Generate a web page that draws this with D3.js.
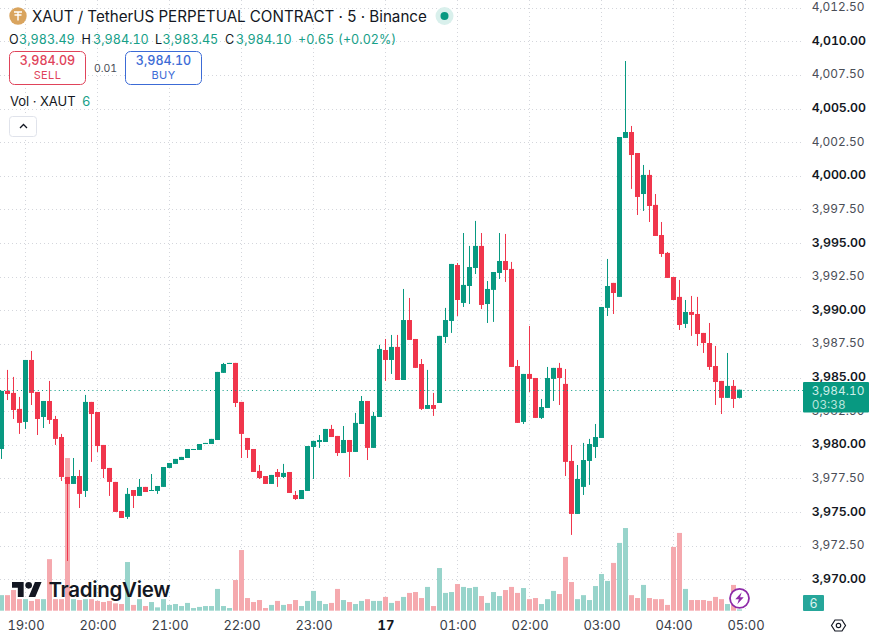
<!DOCTYPE html>
<html>
<head>
<meta charset="utf-8">
<style>
  html, body { margin: 0; padding: 0; background: #fff; }
  svg { display: block; font-family: Inter, "Noto Sans", sans-serif; font-variant-numeric: tabular-nums; font-feature-settings: "tnum" 1; }
</style>
<script src="https://cdn.jsdelivr.net/npm/d3@7/dist/d3.min.js"></script>
</head>
<body>
<svg id="chart" width="874" height="639"></svg>
<script>
// XAUT/USDT perpetual, 5 minute bars: first bar opens at 18:40
const opens = [3979.69,3984.01,3983.86,3982.67,3981.70,3986.31,3983.93,3982.07,3983.26,3981.92,3980.58,3977.61,3977.09,3977.68,3976.57,3983.19,3982.44,3979.99,3978.28,3977.24,3975.08,3974.64,3976.64,3976.20,3976.87,3976.57,3976.57,3976.87,3978.28,3978.58,3978.87,3979.02,3979.62,3979.62,3980.06,3980.06,3980.36,3985.35,3986.01,3986.09,3983.19,3980.51,3979.69,3978.06,3977.68,3977.09,3977.98,3977.61,3977.98,3976.27,3975.97,3976.57,3979.84,3980.21,3980.21,3981.18,3980.66,3979.39,3980.36,3979.47,3981.55,3983.26,3979.77,3982.07,3987.05,3986.31,3987.28,3984.82,3989.28,3987.87,3986.01,3982.67,3982.96,3983.11,3988.02,3989.21,3993.37,3990.55,3991.81,3993.15,3994.79,3990.47,3991.52,3992.78,3993.67,3993.08,3985.86,3981.70,3985.27,3984.97,3982.00,3982.74,3984.90,3985.72,3984.53,3978.80,3974.86,3976.87,3978.80,3979.84,3980.51,3990.18,3992.04,3991.00,4002.82,4003.26,4001.70,3998.65,4000.07,3997.84,3995.60,3994.27,3992.48,3991.00,3988.99,3989.88,3989.73,3988.32,3987.57,3985.86,3984.75,3983.49,3984.38,3983.49];
const highs = [3984.01,3985.57,3985.05,3983.56,3986.31,3986.98,3983.93,3983.26,3984.75,3982.15,3980.81,3977.61,3979.02,3978.13,3983.71,3983.19,3982.44,3979.99,3978.28,3977.24,3975.08,3976.79,3976.64,3977.46,3976.87,3977.83,3976.94,3978.35,3978.65,3978.95,3979.10,3979.69,3979.69,3980.06,3980.14,3980.44,3985.42,3986.09,3986.09,3986.09,3983.19,3980.51,3979.69,3978.50,3977.68,3977.76,3978.20,3978.58,3977.98,3976.57,3976.64,3979.91,3980.29,3980.73,3981.18,3981.48,3980.66,3981.40,3980.36,3982.37,3983.63,3983.26,3982.44,3987.43,3987.87,3988.17,3988.17,3991.59,3990.92,3987.87,3986.38,3985.57,3983.86,3988.10,3990.18,3993.45,3993.52,3995.75,3994.79,3996.65,3995.75,3992.18,3992.85,3995.75,3995.68,3993.60,3986.31,3985.27,3988.84,3984.97,3983.41,3985.79,3985.72,3986.09,3985.64,3979.99,3978.50,3980.14,3980.44,3981.55,3990.25,3993.82,3992.04,4002.89,4008.54,4003.71,4001.70,4000.81,4000.44,3998.65,3996.57,3994.34,3992.48,3992.26,3990.77,3991.07,3991.00,3988.32,3989.06,3987.35,3984.75,3986.83,3984.82,3984.10];
const lows = [3978.95,3983.33,3981.92,3980.81,3981.18,3982.96,3980.73,3981.25,3981.55,3979.99,3977.31,3971.36,3977.09,3975.30,3976.12,3978.73,3979.47,3977.53,3976.20,3975.01,3974.56,3974.49,3975.30,3976.20,3976.49,3976.57,3976.35,3976.87,3978.28,3978.58,3978.87,3979.02,3979.62,3979.62,3980.06,3980.06,3980.36,3985.35,3986.01,3982.81,3979.02,3979.02,3977.98,3977.46,3977.09,3977.09,3976.87,3977.53,3976.42,3975.90,3975.97,3976.57,3977.46,3979.77,3980.21,3980.58,3979.17,3979.39,3977.61,3979.47,3981.55,3978.87,3979.77,3982.07,3984.75,3985.27,3984.82,3984.82,3987.80,3985.72,3982.59,3982.67,3982.15,3983.11,3987.57,3988.32,3989.58,3990.25,3990.47,3992.70,3990.10,3989.06,3989.14,3992.33,3992.11,3985.79,3981.63,3981.55,3983.93,3982.00,3981.92,3982.74,3983.26,3982.96,3977.68,3973.30,3974.86,3976.27,3977.02,3979.02,3980.51,3989.58,3989.73,3991.00,4002.82,3999.03,3997.09,3997.39,3996.57,3995.53,3993.97,3992.41,3990.77,3988.54,3988.69,3988.10,3987.35,3986.83,3985.57,3982.96,3982.29,3983.49,3982.74,3983.45];
const closes = [3984.01,3983.78,3982.59,3981.63,3986.31,3983.86,3981.92,3983.26,3981.85,3980.44,3977.61,3977.09,3977.68,3976.35,3983.19,3982.29,3979.91,3978.20,3977.24,3975.01,3974.56,3976.35,3976.20,3976.87,3976.49,3976.64,3976.94,3978.35,3978.65,3978.95,3979.10,3979.69,3979.69,3980.06,3980.14,3980.44,3985.42,3986.01,3986.09,3983.11,3980.81,3979.62,3977.98,3977.53,3977.09,3977.76,3977.61,3977.91,3976.42,3975.97,3976.64,3979.91,3980.29,3980.36,3981.18,3980.58,3979.39,3980.36,3979.47,3981.63,3983.26,3979.77,3982.15,3987.13,3986.31,3987.28,3984.82,3989.28,3987.80,3985.72,3982.67,3982.96,3982.67,3988.10,3989.28,3993.45,3990.77,3991.89,3993.22,3994.79,3990.40,3991.59,3992.85,3993.67,3993.00,3985.79,3981.63,3985.27,3984.90,3982.00,3982.81,3984.97,3985.72,3984.97,3978.73,3974.86,3977.46,3978.87,3980.06,3980.58,3990.25,3991.81,3991.29,4002.89,4003.26,4001.55,3998.43,4000.07,3997.76,3995.53,3994.19,3992.41,3990.77,3988.91,3989.88,3989.66,3988.24,3987.57,3985.79,3984.67,3983.49,3984.38,3983.41,3984.10];
const volumes = [70,70,93,52,52,44,52,52,232,52,52,687,52,48,52,52,44,39,44,33,30,219,26,52,21,39,15,52,26,30,21,35,12,17,21,21,98,21,12,138,273,57,39,48,12,26,44,26,30,48,21,44,89,44,30,35,98,48,39,30,44,52,44,44,62,35,44,62,80,84,57,107,21,192,80,84,120,107,102,107,66,35,84,66,93,107,80,102,52,57,30,52,89,75,242,129,52,70,48,111,165,134,215,305,372,70,57,116,57,52,52,26,287,350,98,48,48,48,44,62,52,30,116,6];

const priceTicks = [4012.5,4010,4007.5,4005,4002.5,4000,3997.5,3995,3992.5,3990,3987.5,3985,3982.5,3980,3977.5,3975,3972.5,3970];
const timeTickBars = [4,16,28,40,52,64,76,88,100,112,124];
const timeTickLabels = ["19:00","20:00","21:00","22:00","23:00","17","01:00","02:00","03:00","04:00","05:00"];
const lastPrice = 3984.10;
const lastVolume = 6;
const countdown = "03:38";

const UP = "#089981", DOWN = "#f0364c";
const UP_TEXT = "#17a088";
const UP_VOL = "#98d4cb", DOWN_VOL = "#f5a9ae";
const GRID = "#d4d6dc";
const INK = "#131722";
const paneRight = 802, volBase = 610.7;

const svg = d3.select("#chart");
const x = d3.scaleLinear().domain([0, 123]).range([1.5, 739.5]);
const y = d3.scaleLinear().domain([3970, 4007.5]).range([579.3, 75]);
const vol = d3.scaleLinear().domain([0, 450]).range([volBase, volBase - 100]);
const bars = d3.range(opens.length);
const isUp = i => closes[i] >= opens[i];

// dotted grid
const grid = svg.append("g").attr("stroke", GRID).attr("stroke-width", 1).attr("stroke-dasharray", "1 3");
grid.selectAll("line.h").data(priceTicks).join("line")
  .attr("class", "h").attr("x1", 0).attr("x2", paneRight)
  .attr("y1", d => Math.round(y(d)) + 0.5).attr("y2", d => Math.round(y(d)) + 0.5);
grid.selectAll("line.v").data(timeTickBars).join("line")
  .attr("class", "v").attr("y1", 0).attr("y2", volBase)
  .attr("x1", d => x(d)).attr("x2", d => x(d));

// volume pane sits under the candles
svg.append("g").selectAll("rect").data(bars).join("rect")
  .attr("x", i => x(i) - 2.5).attr("width", 5)
  .attr("y", i => vol(volumes[i])).attr("height", i => volBase - vol(volumes[i]))
  .attr("fill", i => isUp(i) ? UP_VOL : DOWN_VOL);

// candles
const candles = svg.append("g");
candles.selectAll("line").data(bars).join("line")
  .attr("x1", i => x(i)).attr("x2", i => x(i))
  .attr("y1", i => y(highs[i])).attr("y2", i => y(lows[i]))
  .attr("stroke", i => isUp(i) ? UP : DOWN).attr("stroke-width", 1);
candles.selectAll("rect").data(bars).join("rect")
  .attr("x", i => x(i) - 2.5).attr("width", 5)
  .attr("y", i => y(Math.max(opens[i], closes[i])))
  .attr("height", i => Math.max(1, Math.abs(y(opens[i]) - y(closes[i]))))
  .attr("fill", i => isUp(i) ? UP : DOWN);

// last price line
svg.append("line").attr("x1", 0).attr("x2", paneRight + 1)
  .attr("y1", Math.round(y(lastPrice)) + 0.5).attr("y2", Math.round(y(lastPrice)) + 0.5)
  .attr("stroke", UP).attr("stroke-width", 1).attr("stroke-dasharray", "1 3.2");

// price axis: whole fives are emphasised
const priceAxis = d3.axisRight(y).tickValues(priceTicks).tickSize(0).tickFormat(d3.format(",.2f"));
const pa = svg.append("g").attr("transform", "translate(804,0)").call(priceAxis);
pa.select(".domain").remove();
pa.selectAll("text")
  .attr("x", 7.7).attr("y", -0.9).attr("text-anchor", "start")
  .style("font-family", "Inter")
  .style("font-size", d => d % 5 === 0 ? "12.3px" : "11.9px")
  .style("font-weight", d => d % 5 === 0 ? 600 : 400)
  .attr("fill", d => d % 5 === 0 ? INK : "#4a4e57");

// time axis
const labelByBar = new Map(timeTickBars.map((b, k) => [b, timeTickLabels[k]]));
const timeAxis = d3.axisBottom(x).tickValues(timeTickBars).tickSize(0).tickFormat(d => labelByBar.get(d));
const ta = svg.append("g").attr("transform", "translate(0,620.5)").call(timeAxis);
ta.select(".domain").remove();
ta.selectAll("text")
  .attr("y", 0).attr("dy", "0.71em")
  .style("font-family", "Inter").style("font-size", "13px")
  .style("font-weight", d => labelByBar.get(d) === "17" ? 700 : 400)
  .attr("fill", d => labelByBar.get(d) === "17" ? INK : "#3a3e47");

// last price tag
svg.append("rect").attr("x", 803).attr("y", 382).attr("width", 66).attr("height", 30.5).attr("fill", UP).attr("rx", 1);
svg.append("text").attr("x", 811.7).attr("y", 394.5).attr("fill", "#cdeee8")
  .style("font-size", "11.9px").text(d3.format(",.2f")(lastPrice));
svg.append("text").attr("x", 811.7).attr("y", 408.5).attr("fill", "#b5e4db")
  .style("font-size", "11.9px").text(countdown);

// volume tag
svg.append("rect").attr("x", 803).attr("y", 595).attr("width", 21).attr("height", 16).attr("fill", "#26a69a").attr("rx", 1);
svg.append("text").attr("x", 813.5).attr("y", 607.5).attr("text-anchor", "middle").attr("fill", "#dff3f0")
  .style("font-size", "12.5px").text(lastVolume);

// settings glyph
const gear = svg.append("g").attr("transform", "translate(838.5,625.5)").attr("fill", "none").attr("stroke", INK).attr("stroke-width", 1.2);
gear.append("path").attr("d", "M-7 0L-3.5 -5.5H3.5L7 0L3.5 5.5H-3.5Z");
gear.append("circle").attr("r", 2.2);

// watermark
const logo = svg.append("g").attr("fill", "#131722");
logo.append("g").attr("transform", "translate(12,578.7) scale(0.833)").call(g => {
  g.append("path").attr("d", "M14 22H7V11H0V4h14v18zM28 22h-8l7.5-18h8L28 22z");
  g.append("circle").attr("cx", 20).attr("cy", 8).attr("r", 4);
});
logo.append("text").attr("x", 48.5).attr("y", 597).style("font-size", "20.5px").style("font-weight", 600)
  .style("letter-spacing", "-0.3px").text("TradingView");

// streaming badge next to the newest bar
const bolt = svg.append("g").attr("transform", "translate(739.5,598.3)");
bolt.append("circle").attr("r", 9.5).attr("fill", "#fff").attr("stroke", "#8e2ba8").attr("stroke-width", 1.8);
bolt.append("path").attr("d", "M2.2 -6L-4.2 1H-0.6L-2.2 6L4.2 -1H0.6Z").attr("fill", "#8e2ba8");

// header: token badge
const token = svg.append("g").attr("transform", "translate(18,16)");
token.append("circle").attr("r", 8.7).attr("fill", "#d9a45e");
token.append("path").attr("d", "M-4 -4H4M0 -4V4.5M-3.5 -1H3.5").attr("stroke", "#fff").attr("stroke-width", 1.4).attr("fill", "none");

svg.append("text").attr("x", 32).attr("y", 21.5).attr("fill", INK)
  .style("font-size", "15.2px").text("XAUT / TetherUS PERPETUAL CONTRACT · 5 · Binance");

// live status dot
svg.append("circle").attr("cx", 444.5).attr("cy", 16).attr("r", 9).attr("fill", "#d9f0ec");
svg.append("circle").attr("cx", 444.5).attr("cy", 16).attr("r", 4).attr("fill", UP);

// OHLC row
const ohlcRow = [
  [9, "O", INK], [19, "3,983.49", UP_TEXT], [81.5, "H", INK], [93, "3,984.10", UP_TEXT],
  [155, "L", INK], [162.5, "3,983.45", UP_TEXT], [225, "C", INK], [236, "3,984.10", UP_TEXT],
  [298, "+0.65", UP_TEXT], [338, "(+0.02%)", UP_TEXT]
];
svg.append("g").selectAll("text").data(ohlcRow).join("text")
  .attr("x", d => d[0]).attr("y", 43.5).attr("fill", d => d[2])
  .style("font-size", "12.6px").text(d => d[1]);

// order buttons
function orderButton(left, colour, price, side) {
  svg.append("rect").attr("x", left + 0.5).attr("y", 51.5).attr("width", 76).attr("height", 33).attr("rx", 5)
    .attr("fill", "#fff").attr("stroke", colour).attr("stroke-width", 1);
  svg.append("text").attr("x", left + 38.5).attr("y", 65).attr("text-anchor", "middle").attr("fill", colour)
    .style("font-size", "12.5px").style("font-weight", 500).text(price);
  svg.append("text").attr("x", left + 38.5).attr("y", 79).attr("text-anchor", "middle").attr("fill", colour)
    .style("font-size", "11px").style("letter-spacing", "0.4px").text(side);
}
orderButton(9, "#e0435a", "3,984.09", "SELL");
orderButton(125, "#3c6bd6", "3,984.10", "BUY");
svg.append("text").attr("x", 105.5).attr("y", 72).attr("text-anchor", "middle").attr("fill", "#4a4e57")
  .style("font-size", "10.5px").text("0.01");

// volume legend
svg.append("text").attr("x", 10).attr("y", 106).attr("fill", INK).style("font-size", "13px").text("Vol · XAUT");
svg.append("text").attr("x", 82).attr("y", 106).attr("fill", UP_TEXT).style("font-size", "13px").text(lastVolume);

// collapse button
svg.append("rect").attr("x", 9.5).attr("y", 116.5).attr("width", 27).attr("height", 20).attr("rx", 3)
  .attr("fill", "#fff").attr("stroke", "#e0e3eb");
svg.append("path").attr("d", "M20 128L23.5 124.5L27 128").attr("fill", "none").attr("stroke", INK).attr("stroke-width", 1.3);
</script>
</body>
</html>
